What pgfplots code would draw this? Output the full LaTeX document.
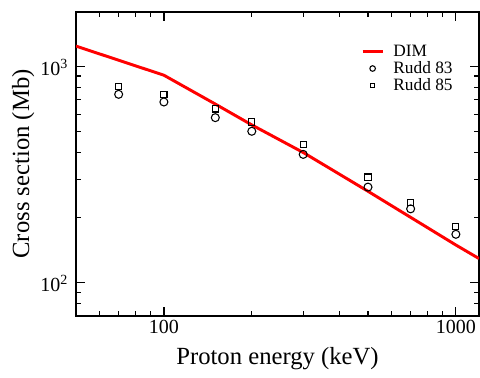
\documentclass[border=0pt]{standalone}
\usepackage{fontspec}
\setmainfont{Liberation Serif}
\usepackage{pgfplots}
\pgfplotsset{compat=1.18}
\begin{document}
\begin{tikzpicture}
\useasboundingbox (-57pt,-46pt) rectangle (303pt,237pt);
\begin{axis}[
  xmode=log, ymode=log,
  scale only axis, width=302.25pt, height=228pt,
  xmin=50, xmax=1200, ymin=70, ymax=1780,
  xtick={100,1000}, xticklabels={100,1000},
  ytick={100,1000}, yticklabels={10\textsuperscript{2},10\textsuperscript{3}},
  minor xtick={60,70,80,90,200,300,400,500,600,700,800,900},
  minor ytick={70,80,90,200,300,400,500,600,700,800,900},
  tick align=inside,
  major tick length=7pt, minor tick length=3.5pt,
  axis line style={line width=1.2pt},
  every tick/.style={black, line width=0.9pt},
  ticklabel style={font=\fontsize{15}{18}\selectfont},
  yticklabel style={xshift=-2.5pt, yshift=-1pt},
  label style={font=\fontsize{18.5}{22}\selectfont},
  xlabel={Proton energy (keV)}, ylabel={Cross section (Mb)},
  xlabel style={yshift=-3pt},
  ylabel style={yshift=-2.5pt},
  legend style={draw=none, fill=none, at={(axis description cs:0.697,0.91)}, anchor=north west,
    font=\fontsize{13}{15}\selectfont, row sep=-1.6pt,
    /tikz/every odd column/.append style={column sep=5pt}},
  legend cell align=left,
  legend image code/.code={\draw[mark repeat=2,mark phase=2,#1,every mark/.append style={scale=0.7}] plot coordinates {(0pt,0pt)(7.5pt,0pt)(15pt,0pt)};},
]
\addplot[red, line width=2.2pt] coordinates {(50,1238)(100,908)(150,668)(200,535)(300,399)(500,264)(700,200)(1000,149)(1200,129)};
\addplot[only marks, mark=o, mark size=3pt, mark options={line width=0.8pt}] coordinates {(70,741)(100,683)(150,578)(200,500)(300,391)(500,276)(700,219)(1000,167)};
\addplot[only marks, mark=square, mark size=2.3pt, mark options={line width=0.8pt}] coordinates {(70,802)(100,741)(150,634)(200,552)(300,433)(500,307)(700,235)(1000,182)};
\legend{DIM, Rudd 83, Rudd 85}
\end{axis}
\end{tikzpicture}
\end{document}
